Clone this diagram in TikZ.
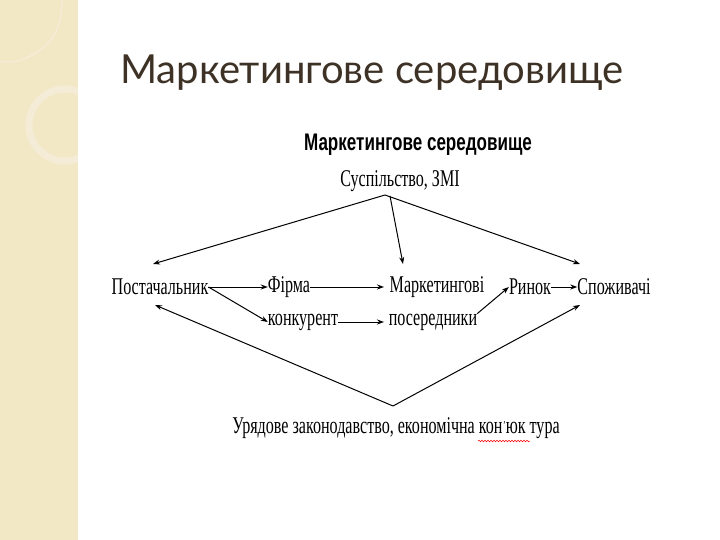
\documentclass[tikz,border=0pt]{standalone}
\usepackage{fontspec}
\setmainfont{Liberation Serif}
\newfontfamily\titlefont{Lato}
\newfontfamily\headfont{Liberation Sans}
\usetikzlibrary{arrows.meta,decorations.pathmorphing}
\definecolor{beige}{HTML}{F3E8C6}
\definecolor{titlec}{HTML}{3E3226}
\tikzset{
  lbl/.style={inner sep=0pt,font=\fontsize{24}{24}\selectfont,xscale=0.67,transform shape,anchor=center},
  arr/.style={-{Stealth[length=7pt,width=5pt]},line width=1pt},
}
\begin{document}
\begin{tikzpicture}[x=1pt,y=-1pt]
\useasboundingbox (0,0) rectangle (720,540);
\fill[white] (0,0) rectangle (720,540);
\fill[beige] (0,0) rectangle (78,540);
\begin{scope}
\clip (0,0) rectangle (78,540);
\draw[beige!85!brown!50,line width=7pt] (65,125) circle (36);
\draw[beige!80!brown!40,line width=1pt] (0,62) -- (15,62) .. controls (55,50) and (62,25) .. (62,0);
\end{scope}
\node[inner sep=0pt,anchor=base west,text=titlec,font=\titlefont\fontsize{40}{40}\selectfont] (title) at (120,84) {Маркетингове середовище};
\node[inner sep=0pt,font=\headfont\bfseries\fontsize{24}{24}\selectfont,xscale=0.71,transform shape] (head) at (418,145) {Маркетингове середовище};
\node[lbl] (soc) at (400,181) {Суспільство, ЗМІ};
\coordinate (top) at (385,195);
\node[lbl] (post) at (160,287) {Постачальник};
\node[lbl] (firm) at (289,287) {Фірма};
\node[lbl] (mark) at (437,287) {Маркетингові};
\node[lbl] (rin) at (530,287) {Ринок};
\node[lbl] (spo) at (614,287) {Споживачі};
\node[lbl] (kon) at (303,322) {конкурент};
\node[lbl] (pos) at (433,322) {посередники};
\node[lbl] (gov) at (396,428) {Урядове законодавство, економічна кон\kern1pt\raisebox{4pt}{\fontsize{12}{12}\selectfont'}юк тура};
\coordinate (bot) at (393,406);
\draw[red,line width=0.5pt,decorate,decoration={snake,amplitude=0.8pt,segment length=3pt}] (478,441) -- (530,441);
\draw[arr] (top) -- (153,264);
\draw[arr] (top) -- (580,264);
\draw[arr] (390,196) -- (403,264);
\draw[arr] (bot) -- (155,305);
\draw[arr] (bot) -- (580,305);
\draw[arr] (post.east) -- (firm.west);
\draw[arr] (post.east) -- (kon.west);
\draw[arr] (firm.east) -- (384,287);
\draw[arr] (kon.east) -- (384,322);
\draw[arr] (pos.north east) -- (rin.west);
\draw[arr] (rin.east) -- (spo.west);
\end{tikzpicture}
\end{document}
